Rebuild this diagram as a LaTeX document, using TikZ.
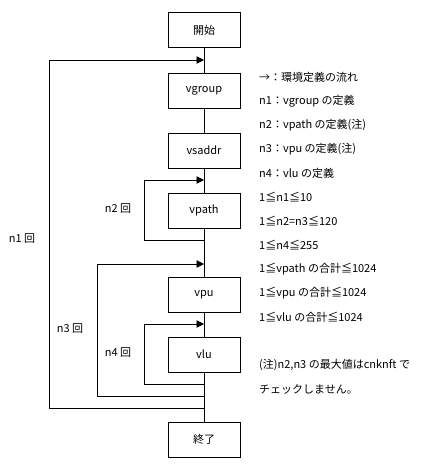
\documentclass[tikz,border=0pt]{standalone}
\usepackage{fontspec}
\setmainfont{Noto Sans CJK JP}
\usetikzlibrary{arrows.meta}

\begin{document}
\begin{tikzpicture}[x=1pt,y=-1pt,
  box/.style={draw,line width=0.8pt,minimum width=72pt,minimum height=35pt,inner sep=0pt,font=\fontsize{11}{13}\selectfont},
  ln/.style={line width=0.8pt},
  back/.style={ln,-{Triangle[length=7.5pt,width=7.5pt]}},
  lab/.style={font=\fontsize{11}{13}\selectfont,inner sep=0pt},
  note/.style={lab,anchor=west}]
  \useasboundingbox (0,0) rectangle (435,468);
  % steps on the spine
  \foreach \name/\txt/\yy in {start/開始/30,vgroup/vgroup/90.5,vsaddr/vsaddr/150.5,
      vpath/vpath/210.5,vpu/vpu/294.5,vlu/vlu/354.5,stop/終了/439.5}
    \node[box] (\name) at (204,\yy) {\txt};
  \draw[ln] (start)--(vgroup)--(vsaddr)--(vpath)--(vpu)--(vlu)--(stop);
  % loops: n1, n2, n3, n4
  \foreach \k/\top/\bot/\lx in {1/60/408/49,2/180/240/144,3/264/396/97,4/324/384/144} {
    \coordinate (t\k) at (204,\top);
    \coordinate (b\k) at (204,\bot);
    \coordinate (c\k) at (\lx,\top);
    \draw[back] (b\k) -| (c\k) -- (t\k);
  }
  \foreach \k/\xx/\yy in {1/22/239,2/118/209,3/70/329,4/118/353}
    \node[lab] (r\k) at (\xx,\yy) {n\k\ 回};
  % notes
  \foreach \i/\txt in {0/→：環境定義の流れ,1/n1：vgroup の定義,2/n2：vpath の定義(注),
      3/n3：vpu の定義(注),4/n4：vlu の定義,5/1≦n1≦10,6/1≦n2=n3≦120,7/1≦n4≦255,
      8/1≦vpath の合計≦1024,9/1≦vpu の合計≦1024,10/1≦vlu の合計≦1024,
      12/(注)n2{,}n3 の最大値はcnknft で,13/チェックしません。}
    \node[note] (note\i) at (259,{77+24*\i}) {\txt};
\end{tikzpicture}
\end{document}
